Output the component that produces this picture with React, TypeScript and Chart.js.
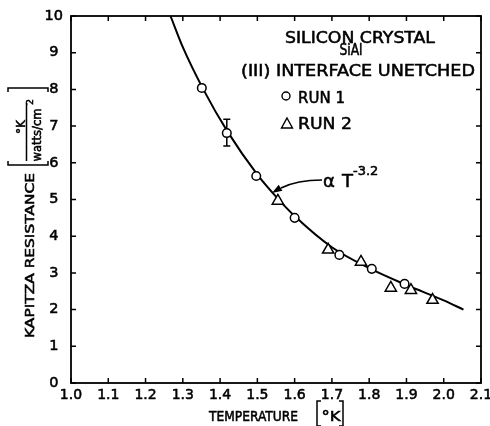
import React, { useEffect, useRef } from 'react';
import { Chart, registerables } from 'chart.js';

Chart.register(...registerables);

// ---- data ----
const xTickValues = [1.0, 1.1, 1.2, 1.3, 1.4, 1.5, 1.6, 1.7, 1.8, 1.9, 2.0, 2.1];
const yTickValues = [0, 1, 2, 3, 4, 5, 6, 7, 8, 9, 10];

const run1Temp = [1.351, 1.418, 1.497, 1.6, 1.72, 1.807, 1.895];
const run1Res = [8.04, 6.81, 5.64, 4.5, 3.49, 3.11, 2.7];

const run2Temp = [1.555, 1.69, 1.778, 1.858, 1.912, 1.97];
const run2Res = [4.96, 3.63, 3.3, 2.59, 2.53, 2.26];

const fitTemp = [1.267, 1.3, 1.355, 1.42, 1.5, 1.55, 1.6, 1.7, 1.8, 1.9, 2.0, 2.053];
const fitRes = [10.0, 9.15, 8.0, 6.85, 5.68, 5.08, 4.55, 3.7, 3.13, 2.67, 2.25, 2.0];

const errorBarTemp = 1.418;
const errorBarLow = 6.46;
const errorBarHigh = 7.19;

const titleLines = ['SILICON CRYSTAL', 'SiAl', '(III) INTERFACE UNETCHED'];
const legendLabels = ['RUN 1', 'RUN 2'];
const fitLabel = 'α';
const fitLabelT = 'T';
const fitExponent = '-3.2';
const xTitle = 'TEMPERATURE';
const unitK = '°K';
const yTitle = 'KAPITZA RESISTANCE';
const yUnitDen = 'watts/cm';
const yUnitSup = '2';

const FAMILY = "'DejaVu Sans', 'Liberation Sans', sans-serif";
const TEXT_STROKE = 0.55;

function fitText(ctx: CanvasRenderingContext2D, text: string, x: number, y: number, width: number, align: CanvasTextAlign) {
  const w = ctx.measureText(text).width;
  ctx.save();
  ctx.translate(x, y);
  ctx.scale(width / w, 1);
  ctx.textAlign = align;
  ctx.fillText(text, 0, 0);
  ctx.lineWidth = TEXT_STROKE;
  ctx.strokeText(text, 0, 0);
  ctx.restore();
}

function boldText(ctx: CanvasRenderingContext2D, text: string, x: number, y: number) {
  ctx.save();
  ctx.fillText(text, x, y);
  ctx.lineWidth = TEXT_STROKE;
  ctx.strokeText(text, x, y);
  ctx.restore();
}

const decorPlugin = {
  id: 'decor',
  beforeDatasetsDraw(chart: any) {
    const ctx: CanvasRenderingContext2D = chart.ctx;
    const xs = chart.scales.x;
    const ys = chart.scales.y;
    const x = xs.getPixelForValue(errorBarTemp);
    const y1 = ys.getPixelForValue(errorBarLow);
    const y2 = ys.getPixelForValue(errorBarHigh);
    ctx.save();
    ctx.strokeStyle = '#000';
    ctx.lineWidth = 1.5;
    ctx.beginPath();
    ctx.moveTo(x, y1); ctx.lineTo(x, y2);
    ctx.moveTo(x - 3.5, y1); ctx.lineTo(x + 3.5, y1);
    ctx.moveTo(x - 3.5, y2); ctx.lineTo(x + 3.5, y2);
    ctx.stroke();
    ctx.restore();
  },
  afterDraw(chart: any) {
    const ctx: CanvasRenderingContext2D = chart.ctx;
    const a = chart.chartArea;
    const xs = chart.scales.x;
    const ys = chart.scales.y;
    const rx = (X: number) => a.left + (X - 71);
    const ry = (Y: number) => a.top + (Y - 16);
    ctx.save();
    ctx.strokeStyle = '#000';
    ctx.fillStyle = '#000';

    // frame
    ctx.lineWidth = 1.8;
    ctx.strokeRect(a.left, a.top, a.right - a.left, a.bottom - a.top);

    // inward ticks on all sides
    ctx.lineWidth = 1.5;
    const tl = 5;
    ctx.beginPath();
    xs.ticks.forEach((t: any) => {
      const px = xs.getPixelForValue(t.value);
      ctx.moveTo(px, a.bottom); ctx.lineTo(px, a.bottom - tl);
      ctx.moveTo(px, a.top); ctx.lineTo(px, a.top + tl);
    });
    ys.ticks.forEach((t: any) => {
      const py = ys.getPixelForValue(t.value);
      ctx.moveTo(a.left, py); ctx.lineTo(a.left + tl, py);
      ctx.moveTo(a.right, py); ctx.lineTo(a.right - tl, py);
    });
    ctx.stroke();

    // title block
    ctx.textBaseline = 'alphabetic';
    ctx.font = `16px ${FAMILY}`;
    fitText(ctx, titleLines[0], rx(360), ry(42.5), 150, 'center');
    ctx.font = `15px ${FAMILY}`;
    fitText(ctx, titleLines[1], rx(351), ry(55), 23, 'center');
    ctx.font = `16.5px ${FAMILY}`;
    fitText(ctx, titleLines[2], rx(358), ry(76), 234, 'center');

    // legend
    ctx.lineWidth = 1.4;
    ctx.beginPath();
    ctx.arc(rx(286), ry(96), 4, 0, Math.PI * 2);
    ctx.stroke();
    ctx.beginPath();
    ctx.moveTo(rx(287), ry(118));
    ctx.lineTo(rx(292.5), ry(128));
    ctx.lineTo(rx(281.5), ry(128));
    ctx.closePath();
    ctx.stroke();
    ctx.font = `16.5px ${FAMILY}`;
    fitText(ctx, legendLabels[0], rx(298), ry(102.5), 47, 'left');
    fitText(ctx, legendLabels[1], rx(298), ry(129), 54, 'left');

    // fit annotation
    ctx.font = `18px ${FAMILY}`;
    ctx.textAlign = 'left';
    boldText(ctx, fitLabel, rx(323), ry(187));
    boldText(ctx, fitLabelT, rx(342), ry(187));
    ctx.font = `13px ${FAMILY}`;
    boldText(ctx, fitExponent, rx(353), ry(175));
    // arrow
    ctx.lineWidth = 1.6;
    ctx.beginPath();
    ctx.moveTo(rx(322), ry(180));
    ctx.quadraticCurveTo(rx(297), ry(180), rx(281), ry(188));
    ctx.stroke();
    const tipX = rx(272), tipY = ry(193);
    const dx = rx(281) - tipX, dy = ry(187.5) - tipY;
    const len = Math.hypot(dx, dy);
    const ux = dx / len, uy = dy / len;
    const L = 10, W = 3.5;
    ctx.beginPath();
    ctx.moveTo(tipX, tipY);
    ctx.lineTo(tipX + ux * L - uy * W, tipY + uy * L + ux * W);
    ctx.lineTo(tipX + ux * L + uy * W, tipY + uy * L - ux * W);
    ctx.closePath();
    ctx.fill();

    // x title
    ctx.font = `13.5px ${FAMILY}`;
    fitText(ctx, xTitle, rx(209), ry(421), 89, 'left');
    ctx.lineWidth = 1.5;
    ctx.beginPath();
    ctx.moveTo(rx(321), ry(401)); ctx.lineTo(rx(317), ry(401)); ctx.lineTo(rx(317), ry(426)); ctx.lineTo(rx(321), ry(426));
    ctx.moveTo(rx(339), ry(401)); ctx.lineTo(rx(343), ry(401)); ctx.lineTo(rx(343), ry(426)); ctx.lineTo(rx(339), ry(426));
    ctx.stroke();
    ctx.font = `13.5px ${FAMILY}`;
    fitText(ctx, unitK, rx(321.5), ry(421), 19, 'left');

    // y title (rotated)
    ctx.save();
    ctx.translate(rx(31), ry(255.5));
    ctx.rotate(-Math.PI / 2);
    ctx.font = `12.5px ${FAMILY}`;
    ctx.textBaseline = 'middle';
    fitText(ctx, yTitle, 0, 0, 165, 'center');
    ctx.restore();

    // y unit bracket and fraction (rotated frame: u = -screenY, v = screenX)
    ctx.save();
    ctx.translate(rx(0), ry(0));
    ctx.rotate(-Math.PI / 2);
    ctx.lineWidth = 1.5;
    ctx.beginPath();
    ctx.moveTo(-92, 8); ctx.lineTo(-88, 8); ctx.lineTo(-88, 48); ctx.lineTo(-92, 48);
    ctx.moveTo(-161, 8); ctx.lineTo(-165, 8); ctx.lineTo(-165, 48); ctx.lineTo(-161, 48);
    ctx.moveTo(-161, 26.5); ctx.lineTo(-103, 26.5);
    ctx.stroke();
    ctx.textBaseline = 'alphabetic';
    ctx.font = `12px ${FAMILY}`;
    ctx.textAlign = 'center';
    boldText(ctx, unitK, -127, 24.5);
    ctx.font = `11.5px ${FAMILY}`;
    fitText(ctx, yUnitDen, -135, 40.5, 53, 'center');
    ctx.font = `9.5px ${FAMILY}`;
    ctx.textAlign = 'center';
    boldText(ctx, yUnitSup, -102, 33);
    ctx.restore();

    ctx.restore();
  },
};

export default function App() {
  const ref = useRef<HTMLCanvasElement | null>(null);
  useEffect(() => {
    if (!ref.current) return;
    const chart = new Chart(ref.current, {
      type: 'scatter',
      data: {
        datasets: [
          {
            label: 'Run 1',
            data: run1Temp.map((t, i) => ({ x: t, y: run1Res[i] })),
            pointStyle: 'circle',
            pointRadius: 4.3,
            pointBackgroundColor: '#fff',
            pointBorderColor: '#000',
            pointBorderWidth: 1.5,
            showLine: false,
            order: 0,
          },
          {
            label: 'Run 2',
            data: run2Temp.map((t, i) => ({ x: t, y: run2Res[i] })),
            pointStyle: 'triangle',
            pointRadius: 6.5,
            pointBackgroundColor: '#fff',
            pointBorderColor: '#000',
            pointBorderWidth: 1.5,
            showLine: false,
            order: 1,
          },
          {
            label: 'fit',
            data: fitTemp.map((t, i) => ({ x: t, y: fitRes[i] })),
            showLine: true,
            borderColor: '#000',
            borderWidth: 2,
            pointRadius: 0,
            cubicInterpolationMode: 'monotone',
            fill: false,
            order: 2,
          },
        ],
      } as any,
      options: {
        animation: false,
        responsive: false,
        devicePixelRatio: 1,
        layout: { padding: { top: 16, right: 9, left: 0, bottom: 0 } },
        plugins: {
          legend: { display: false },
          tooltip: { enabled: false },
        },
        scales: {
          x: {
            type: 'linear',
            min: 1.0,
            max: 2.1,
            afterBuildTicks: (s: any) => { s.ticks = xTickValues.map((v) => ({ value: v })); },
            afterFit: (s: any) => { s.height = 43; s.paddingLeft = 0; s.paddingRight = 0; },
            grid: { display: false, drawTicks: false },
            border: { display: false },
            ticks: {
              color: '#000',
              font: { family: FAMILY, size: 14 },
              textStrokeColor: '#000',
              textStrokeWidth: TEXT_STROKE,
              padding: 4,
              autoSkip: false,
              maxRotation: 0,
              callback: (v: any) => Number(v).toFixed(1),
            },
          },
          y: {
            type: 'linear',
            min: 0,
            max: 10,
            afterBuildTicks: (s: any) => { s.ticks = yTickValues.map((v) => ({ value: v })); },
            afterFit: (s: any) => { s.width = 71; s.paddingTop = 0; s.paddingBottom = 0; },
            grid: { display: false, drawTicks: false },
            border: { display: false },
            ticks: {
              color: '#000',
              font: { family: FAMILY, size: 14.5 },
              textStrokeColor: '#000',
              textStrokeWidth: TEXT_STROKE,
              padding: 8,
              crossAlign: 'center',
              autoSkip: false,
              callback: (v: any) => String(v),
            },
          },
        },
      } as any,
      plugins: [decorPlugin],
    });
    return () => chart.destroy();
  }, []);
  return (
    <div style={{ position: 'absolute', left: 0, top: 0, width: 490, height: 426, background: '#fff' }}>
      <canvas ref={ref} width={490} height={426} style={{ display: 'block', width: 490, height: 426 }} />
    </div>
  );
}
